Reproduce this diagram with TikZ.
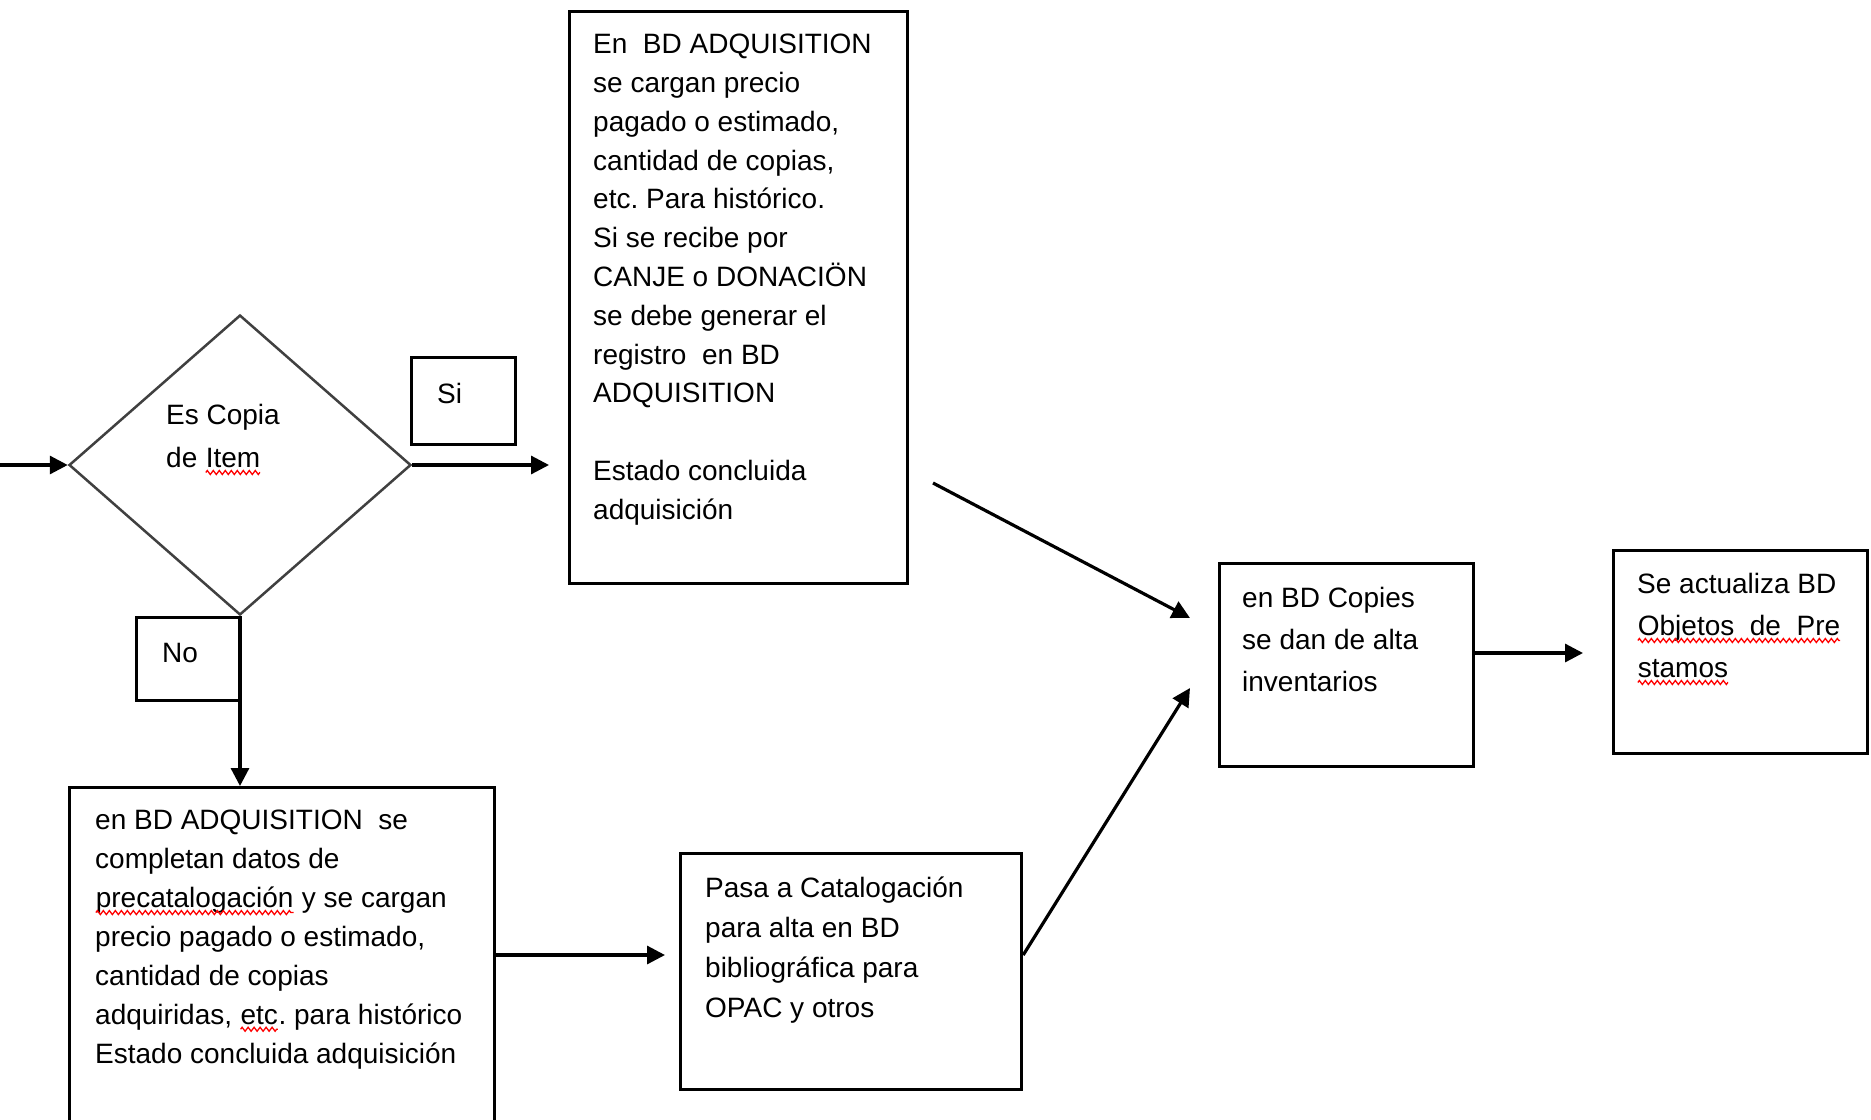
\documentclass[tikz,border=0pt]{standalone}
\usepackage{fontspec}
\setmainfont{Liberation Sans}
\usetikzlibrary{arrows.meta,shapes.geometric,decorations.pathmorphing}
\definecolor{diagray}{HTML}{404040}
\definecolor{spellred}{HTML}{FF0000}
\frenchspacing
\newcommand\spellerr[1]{\tikz[baseline=(w.base)]{\node[anchor=base, inner sep=0pt, outer sep=0pt, draw=none] (w) {#1};\draw[spellred, line width=1.3pt, decorate, decoration={zigzag, amplitude=2pt, segment length=6pt}] ([yshift=-5pt]w.base west) -- ([yshift=-5pt]w.base east);}}
\tikzset{
  box/.style={draw=black, line width=3.2pt, anchor=north west, inner sep=0pt},
  txt/.style={anchor=north west, inner sep=0pt, align=left},
  conn/.style={line width=3.2pt, -{Triangle[length=18pt,width=18pt]}},
}
\begin{document}
\begin{tikzpicture}[x=1pt,y=-1pt]
\useasboundingbox (0,0) rectangle (1871,1119);
\clip (0,0) rectangle (1871,1119);
\fill[white] (0,0) rectangle (1871,1119);
% boxes
\node[box, minimum width=338, minimum height=572] (adq1) at (568,10) {};
\node[diamond, draw=diagray, line width=2.5pt, minimum width=342, minimum height=300, inner sep=0pt] (dec) at (240,465) {};
\node[box, minimum width=104, minimum height=87] (si) at (410,356) {};
\node[box, minimum width=104, minimum height=83] (no) at (135,616) {};
\node[box, minimum width=425, minimum height=350] (adq2) at (68,786) {};
\node[box, minimum width=341, minimum height=236] (cat) at (679,852) {};
\node[box, minimum width=254, minimum height=203] (copies) at (1218,562) {};
\node[box, minimum width=254, minimum height=203] (obj) at (1612,549) {};
% texts
\node[txt, font=\fontsize{28}{38.8}\selectfont] (adq1t) at (593,34) {En\ \ BD ADQUISITION\\se cargan precio\\pagado o estimado,\\cantidad de copias,\\etc. Para histórico.\\Si se recibe por\\CANJE o DONACIÖN\\se debe generar el\\registro\ \ en BD\\ADQUISITION\\[38.8pt]Estado concluida\\adquisición};
\node[txt, font=\fontsize{28}{43}\selectfont] (dect) at (166,404) {Es Copia\\de \spellerr{Item}};
\node[txt, font=\fontsize{28}{39}\selectfont] (sit) at (437,383) {Si};
\node[txt, font=\fontsize{28}{39}\selectfont] (not) at (162,643) {No};
\node[txt, font=\fontsize{28}{38.9}\selectfont] (adq2t) at (95,810) {en BD ADQUISITION\ \ se\\completan datos de\\\spellerr{precatalogación} y se cargan\\precio pagado o estimado,\\cantidad de copias\\adquiridas, \spellerr{etc}. para histórico\\Estado concluida adquisición};
\node[txt, font=\fontsize{28}{39.8}\selectfont] (catt) at (705,877) {Pasa a Catalogación\\para alta en BD\\bibliográfica para\\OPAC y otros};
\node[txt, font=\fontsize{28}{41.8}\selectfont] (copiest) at (1242,587) {en BD Copies\\se dan de alta\\inventarios};
\node[txt, font=\fontsize{28}{42}\selectfont] (objt) at (1637,573) {Se actualiza BD\\\spellerr{Objetos\ \ de\ \ Pre}\\\spellerr{stamos}};
% connectors
\coordinate (in) at (0,465);
\draw[conn] (in) -- (dec.west);
\coordinate (siend) at (549,465);
\draw[conn] (dec.east) -- (siend);
\draw[conn] (dec.south) -- (dec.south |- adq2.north);
\coordinate (catin) at (665,955);
\draw[conn] (adq2.north east |- catin) -- (catin);
\coordinate (cp2) at (1190,688);
\draw[conn] (cat.north east |- catin) -- (cp2);
\coordinate (adqout) at (933,483);
\coordinate (cp1) at (1190,618);
\draw[conn] (adqout) -- (cp1);
\coordinate (objin) at (1583,653);
\draw[conn] (copies.east |- objin) -- (objin);
\end{tikzpicture}
\end{document}
